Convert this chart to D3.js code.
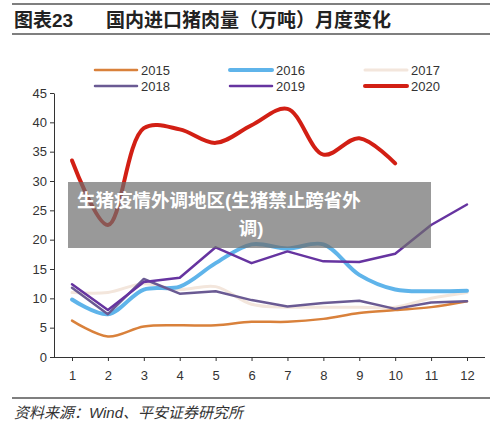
<!DOCTYPE html><html><head><meta charset="utf-8">
<script src="https://cdn.jsdelivr.net/npm/d3@7"></script>
<style>body{margin:0;background:#fff;font-family:"Liberation Sans","Noto Sans CJK SC",sans-serif}</style></head><body>
<svg id="c" width="500" height="431"></svg>
<script>
const months = [1,2,3,4,5,6,7,8,9,10,11,12];
const yTicks = [0,5,10,15,20,25,30,35,40,45];
const s2015 = [6.2,3.5,5.2,5.4,5.4,6.0,6.0,6.5,7.5,8.0,8.5,9.5];
const s2016 = [9.8,7.3,11.5,12,16,19.2,18.5,19.2,14,11.5,11.2,11.3];
const s2017 = [11,11,12.5,11.5,12,9,8.5,8.5,8.5,8.5,10,11];
const s2018 = [11.8,7.3,13.3,10.8,11.2,9.7,8.6,9.2,9.6,8.2,9.3,9.5];
const s2019 = [12.4,8,12.8,13.5,18.7,16,18,16.3,16.2,17.6,22.5,26];
const s2020 = [33.5,22.5,39,38.8,36.5,39.5,42.3,34.5,37.3,33];
const series = [
  {name:"2017",v:s2017,c:"#f3e6dc",w:3,smooth:true},
  {name:"2015",v:s2015,c:"#d9813b",w:2.5,smooth:true},
  {name:"2016",v:s2016,c:"#5fb4ea",w:4,smooth:true},
  {name:"2018",v:s2018,c:"#6a5a93",w:2.5,smooth:false},
  {name:"2019",v:s2019,c:"#6634a0",w:2.5,smooth:false},
  {name:"2020",v:s2020,c:"#d21f14",w:4,smooth:true}
];
const legendOrder = ["2015","2016","2017","2018","2019","2020"];
const svg = d3.select("#c");
const x = d3.scalePoint().domain(months).range([72,467]);
const y = d3.scaleLinear().domain([0,45]).range([357,93]);

svg.append("line").attr("x1",12).attr("x2",490).attr("y1",4).attr("y2",4).attr("stroke","#555").attr("stroke-width",1.5);
svg.append("line").attr("x1",12).attr("x2",490).attr("y1",34).attr("y2",34).attr("stroke","#555").attr("stroke-width",1.5);
svg.append("text").attr("x",14).attr("y",27).attr("font-size",19).attr("font-weight","bold").attr("fill","#222").text("图表23");
svg.append("text").attr("x",106).attr("y",27).attr("font-size",19).attr("font-weight","bold").attr("fill","#222").text("国内进口猪肉量（万吨）月度变化");

const ya = svg.append("g").attr("transform","translate(54,0)").call(d3.axisLeft(y).tickValues(yTicks).tickSize(4).tickSizeOuter(0));
const xa = svg.append("g").attr("transform","translate(0,357)").call(d3.axisBottom(x).tickSize(4));
xa.select(".domain").attr("d","M54,0.5H485");
[ya,xa].forEach(a=>{a.selectAll("text").attr("font-size",13).attr("fill","#333").attr("font-family","Liberation Sans");a.selectAll("line,path").attr("stroke","#333");});
xa.selectAll("text").attr("dy","1.2em");

series.forEach(s=>{
  const line = d3.line().x((d,i)=>x(months[i])).y(d=>y(d)).curve(s.smooth?d3.curveCatmullRom:d3.curveLinear);
  svg.append("path").attr("d",line(s.v)).attr("fill","none").attr("stroke",s.c).attr("stroke-width",s.w).attr("stroke-linejoin","round").attr("stroke-linecap","round");
});

const lx = [95,230,365];
legendOrder.forEach((n,i)=>{
  const s = series.find(d=>d.name===n);
  const gx = lx[i%3], gy = i<3?70:86;
  svg.append("line").attr("x1",gx).attr("x2",gx+42).attr("y1",gy).attr("y2",gy).attr("stroke",s.c).attr("stroke-width",s.w).attr("stroke-linecap","round");
  svg.append("text").attr("x",gx+46).attr("y",gy+5).attr("font-size",13).attr("fill","#333").text(n);
});

svg.append("line").attr("x1",12).attr("x2",490).attr("y1",398).attr("y2",398).attr("stroke","#555").attr("stroke-width",1.5);
svg.append("text").attr("x",14).attr("y",418).attr("font-size",15).attr("font-style","italic").attr("fill","#333").text("资料来源：Wind、平安证券研究所");

svg.append("rect").attr("x",68).attr("y",182).attr("width",363).attr("height",66).attr("fill","rgba(110,110,110,0.7)");
svg.append("text").attr("x",77).attr("y",207).attr("font-size",18.5).attr("font-weight","bold").attr("fill","#fff").text("生猪疫情外调地区(生猪禁止跨省外");
svg.append("text").attr("x",251).attr("y",235).attr("text-anchor","middle").attr("font-size",18.5).attr("font-weight","bold").attr("fill","#fff").text("调)");
</script></body></html>
